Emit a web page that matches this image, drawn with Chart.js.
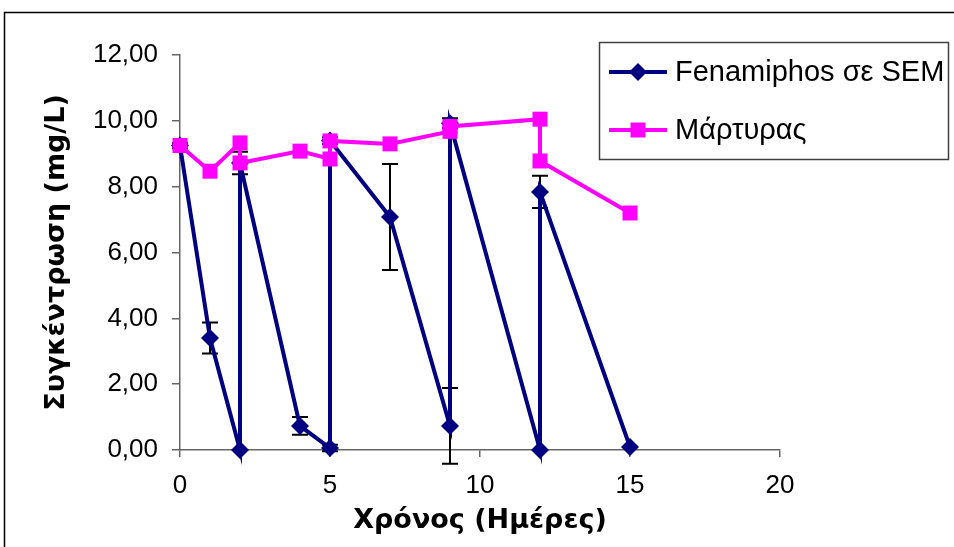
<!DOCTYPE html>
<html>
<head>
<meta charset="utf-8">
<script src="https://cdn.jsdelivr.net/npm/chart.js"></script>
<style>
    body { margin: 0; background: #fff; }
    #wrap { width: 954px; height: 547px; position: relative; }
</style>
</head>
<body>
<div id="wrap"><canvas id="concChart"></canvas></div>
<script>
    // values: x = days, y = mg/L
    var fenDays = [0, 1, 2, 2, 4, 5, 5, 7, 9, 9, 12, 12, 15];
    var fenConc = [9.25, 3.40, 0.00, 8.72, 0.73, 0.06, 9.40, 7.08, 0.73, 9.93, 0.00, 7.84, 0.09];
    var fenErr  = [0.08, 0.47, 0.00, 0.34, 0.27, 0.10, 0.10, 1.61, 1.15, 0.15, 0.00, 0.49, 0.00];

    var ctrlDays = [0, 1, 2, 2, 4, 5, 5, 7, 9, 9, 12, 12, 15];
    var ctrlConc = [9.25, 8.47, 9.33, 8.72, 9.08, 8.84, 9.39, 9.30, 9.68, 9.83, 10.05, 8.78, 7.20];

    var seriesNames = ['Fenamiphos σε SEM', 'Μάρτυρας'];
    var xTicks = [0, 5, 10, 15, 20];
    var yTicks = [0, 2, 4, 6, 8, 10, 12];

    var navy = '#000080';
    var magenta = '#FF00FF';
    var axisGray = '#666666';
    var tickFont = { family: 'Liberation Sans, Arial, sans-serif', size: 26 };
    var titleFont = { family: 'DejaVu Sans, Verdana, sans-serif', size: 27, weight: 'bold' };

    function toPoints(xs, ys) {
        return xs.map(function (x, i) { return { x: x, y: ys[i] }; });
    }

    // black error bars with caps, drawn under the series
    var errorBars = {
        id: 'errorBars',
        beforeDatasetsDraw: function (chart) {
            var ctx = chart.ctx, xs = chart.scales.x, ys = chart.scales.y;
            ctx.save();
            ctx.strokeStyle = '#000';
            ctx.lineWidth = 2;
            fenDays.forEach(function (d, i) {
                var e = fenErr[i];
                if (!e) return;
                var px = xs.getPixelForValue(d);
                var top = ys.getPixelForValue(fenConc[i] + e);
                var bot = ys.getPixelForValue(fenConc[i] - e);
                ctx.beginPath();
                ctx.moveTo(px, top); ctx.lineTo(px, bot);
                ctx.moveTo(px - 8, top); ctx.lineTo(px + 8, top);
                ctx.moveTo(px - 8, bot); ctx.lineTo(px + 8, bot);
                ctx.stroke();
            });
            ctx.restore();
        }
    };

    // framed legend box + outer chart border
    var boxLegend = {
        id: 'boxLegend',
        afterDraw: function (chart) {
            var ctx = chart.ctx;
            ctx.save();
            ctx.strokeStyle = '#000';
            ctx.lineWidth = 1.5;
            ctx.strokeRect(4.5, 12.5, 2000, 2000);

            ctx.strokeStyle = '#404040';
            ctx.strokeRect(599.5, 42.5, 349, 117);

            var rows = [72, 130];
            chart.data.datasets.forEach(function (ds, i) {
                var y = rows[i];
                ctx.strokeStyle = ds.borderColor;
                ctx.lineWidth = 4;
                ctx.beginPath();
                ctx.moveTo(609, y); ctx.lineTo(667, y);
                ctx.stroke();
                ctx.fillStyle = ds.pointBackgroundColor;
                ctx.strokeStyle = ds.pointBorderColor;
                Chart.helpers.drawPoint(ctx, {
                    pointStyle: ds.pointStyle, radius: ds.pointRadius,
                    rotation: 0, borderWidth: 0
                }, 638, y);
                ctx.fillStyle = '#000';
                ctx.font = '29px Liberation Sans, Arial, sans-serif';
                ctx.textBaseline = 'middle';
                ctx.textAlign = 'left';
                ctx.fillText(ds.label, 675, y + 1);
            });
            ctx.restore();
        }
    };

    var ctx = document.getElementById('concChart').getContext('2d');
    var concChart = new Chart(ctx, {
        type: 'line',
        data: {
            datasets: [{
                label: seriesNames[0],
                data: toPoints(fenDays, fenConc),
                borderColor: navy,
                backgroundColor: navy,
                pointBackgroundColor: navy,
                pointBorderColor: navy,
                borderWidth: 4,
                pointStyle: 'rectRot',
                pointRadius: 9,
                pointBorderWidth: 0,
                tension: 0,
                clip: false,
                order: 1
            }, {
                label: seriesNames[1],
                data: toPoints(ctrlDays, ctrlConc),
                borderColor: magenta,
                backgroundColor: magenta,
                pointBackgroundColor: magenta,
                pointBorderColor: magenta,
                borderWidth: 4,
                pointStyle: 'rect',
                pointRadius: 10.6,
                pointBorderWidth: 0,
                tension: 0,
                clip: false,
                order: 0
            }]
        },
        options: {
            responsive: true,
            maintainAspectRatio: false,
            animation: false,
            layout: { padding: { top: 55, right: 174, bottom: 0, left: 0 } },
            plugins: {
                legend: { display: false },
                tooltip: { enabled: false }
            },
            scales: {
                x: {
                    type: 'linear',
                    min: 0,
                    max: 20,
                    afterBuildTicks: function (s) { s.ticks = xTicks.map(function (v) { return { value: v }; }); },
                    afterFit: function (s) { s.height = 97; },
                    grid: { drawOnChartArea: false, drawTicks: true, tickLength: 7, color: axisGray, lineWidth: 1.5 },
                    border: { color: axisGray, width: 1.5 },
                    ticks: { color: '#000', font: tickFont, padding: 13, maxRotation: 0 },
                    title: { display: true, text: 'Χρόνος (Ημέρες)', color: '#000', font: titleFont, padding: { top: 0, bottom: 10 } }
                },
                y: {
                    min: 0,
                    max: 12,
                    afterBuildTicks: function (s) { s.ticks = yTicks.map(function (v) { return { value: v }; }); },
                    afterFit: function (s) { s.width = 180; },
                    grid: { drawOnChartArea: false, drawTicks: true, tickLength: 8, color: axisGray, lineWidth: 1.5 },
                    border: { color: axisGray, width: 1.5 },
                    ticks: {
                        color: '#000', font: tickFont, padding: 14,
                        callback: function (v) { return v.toFixed(2).replace('.', ','); }
                    },
                    title: { display: true, text: 'Συγκέντρωση (mg/L)', color: '#000', font: titleFont, padding: { top: 41, bottom: 0 } }
                }
            }
        },
        plugins: [errorBars, boxLegend]
    });
</script>
</body>
</html>
